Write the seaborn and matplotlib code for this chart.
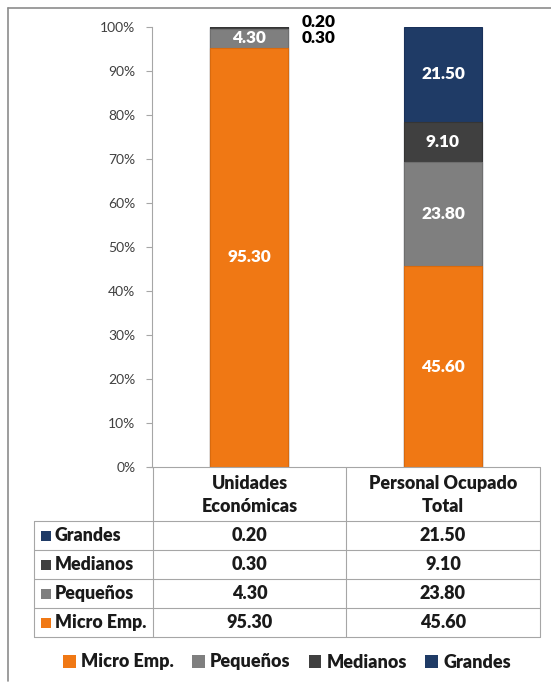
import matplotlib
matplotlib.use("Agg")
import matplotlib.pyplot as plt
from matplotlib.lines import Line2D
from matplotlib.patches import Patch, Rectangle
import numpy as np
import pandas as pd
import seaborn as sns

# ---- data -------------------------------------------------------------
categories = ["Unidades\nEconómicas", "Personal Ocupado\nTotal"]
series_names = ["Micro Emp.", "Pequeños", "Medianos", "Grandes"]
micro = [95.30, 45.60]
pequenos = [4.30, 23.80]
medianos = [0.30, 9.10]
grandes = [0.20, 21.50]
yticks = [0, 10, 20, 30, 40, 50, 60, 70, 80, 90, 100]
ytick_labels = ["0%", "10%", "20%", "30%", "40%", "50%", "60%", "70%", "80%", "90%", "100%"]

colors = ["#F07814", "#7F7F7F", "#404040", "#1F3B66"]
edge_colors = ["#D96A0E", "#6E6E6E", "#353535", "#19315A"]

series = [micro, pequenos, medianos, grandes]

# ---- figure ------------------------------------------------------------
W, H = 551, 683
sns.set_theme(style="white")
plt.rcParams["font.family"] = ["Lato", "DejaVu Sans"]
BOLD = "heavy"

fig = plt.figure(figsize=(W / 100, H / 100), dpi=100)


def fx(px):
    return px / W


def fy(py):
    return 1 - py / H


ax_left, ax_right, ax_top, ax_bottom = 152, 540, 27, 467
ax = fig.add_axes([fx(ax_left), fy(ax_bottom), fx(ax_right) - fx(ax_left),
                   fy(ax_top) - fy(ax_bottom)])

# stacked bars drawn as overlapping cumulative totals (top layer first)
cum = np.cumsum(np.array(series), axis=0)
for k in range(len(series) - 1, -1, -1):
    df = pd.DataFrame({"cat": categories, "val": cum[k]})
    sns.barplot(data=df, x="cat", y="val", color=colors[k], saturation=1,
                width=0.4, ax=ax, edgecolor=edge_colors[k], linewidth=0.8,
                order=categories)

# segment value labels
for i in range(len(categories)):
    base = 0.0
    k_small = 0
    for k, vals in enumerate(series):
        v = vals[i]
        if v >= 2:
            ax.text(i, base + v / 2, f"{v:.2f}", ha="center", va="center",
                    color="white", fontsize=12.4, fontweight=BOLD)
        else:
            ax.text(i + 0.27, 97.6 + 3.6 * k_small, f"{v:.2f}", ha="left",
                    va="center", color="black", fontsize=12.4,
                    fontweight=BOLD, clip_on=False)
            k_small += 1
        base += v

ax.set_ylim(0, 100)
ax.set_xlim(-0.5, 1.5)
ax.set_yticks(yticks)
ax.set_yticklabels(ytick_labels, color="#404040", fontsize=10)
ax.set_xticks([])
ax.set_xlabel("")
ax.set_ylabel("")
ax.tick_params(axis="y", which="both", left=True, length=4, width=0.8,
               color="#A6A6A6", pad=8)
for side in ["top", "right", "bottom"]:
    ax.spines[side].set_visible(False)
ax.spines["left"].set_color("#A6A6A6")
ax.spines["left"].set_linewidth(0.8)

# ---- data table beneath the axis ---------------------------------------
grid = "#A6A6A6"
col_edges = [34, 153, 346, 540]
header_top, header_bottom = 467, 521
row_lines = [521, 550, 579, 608, 637]


def hline(x0, x1, y):
    fig.add_artist(Line2D([fx(x0), fx(x1)], [fy(y), fy(y)], color=grid, lw=0.8))


def vline(x, y0, y1):
    fig.add_artist(Line2D([fx(x), fx(x)], [fy(y0), fy(y1)], color=grid, lw=0.8))


hline(col_edges[1] - 4, col_edges[3], header_top)
for y in row_lines:
    hline(col_edges[0], col_edges[3], y)
vline(col_edges[0], row_lines[0], row_lines[-1])
for x in col_edges[1:]:
    vline(x, header_top, row_lines[-1])

txt_color = "#1A1A1A"
for j, cat in enumerate(categories):
    cx = (col_edges[j + 1] + col_edges[j + 2]) / 2
    fig.text(fx(cx), fy((header_top + header_bottom) / 2 + 1), cat,
             ha="center", va="center", fontsize=12.9, fontweight=BOLD,
             color=txt_color, linespacing=1.45)

row_order = [3, 2, 1, 0]  # Grandes on top, Micro Emp. at the bottom
for r, k in enumerate(row_order):
    yc = (row_lines[r] + row_lines[r + 1]) / 2
    fig.add_artist(Rectangle((fx(41), fy(yc + 5)), fx(10), 10 / H,
                             facecolor=colors[k], edgecolor="none"))
    fig.text(fx(55), fy(yc), series_names[k], ha="left", va="center",
             fontsize=12.8, fontweight=BOLD, color=txt_color)
    for j in range(len(categories)):
        cx = (col_edges[j + 1] + col_edges[j + 2]) / 2
        fig.text(fx(cx), fy(yc), f"{series[k][j]:.2f}", ha="center",
                 va="center", fontsize=13, fontweight=BOLD, color=txt_color)

# ---- legend -------------------------------------------------------------
handles = [Patch(facecolor=c, edgecolor="none") for c in colors]
fig.legend(handles, series_names, loc="center", ncol=4, frameon=False,
           bbox_to_anchor=(fx(287), fy(662)), handlelength=0.7,
           handleheight=0.7, handletextpad=0.3, columnspacing=1.0,
           prop={"size": 13, "weight": BOLD}, labelcolor=txt_color)

# ---- outer frame ---------------------------------------------------------
frame = "#8C8C8C"
fig.add_artist(Line2D([fx(8), fx(551)], [fy(8), fy(8)], color=frame, lw=1.2))
fig.add_artist(Line2D([fx(8), fx(8)], [fy(8), fy(681)], color=frame, lw=1.2))

fig.savefig("out.png", dpi=100)
